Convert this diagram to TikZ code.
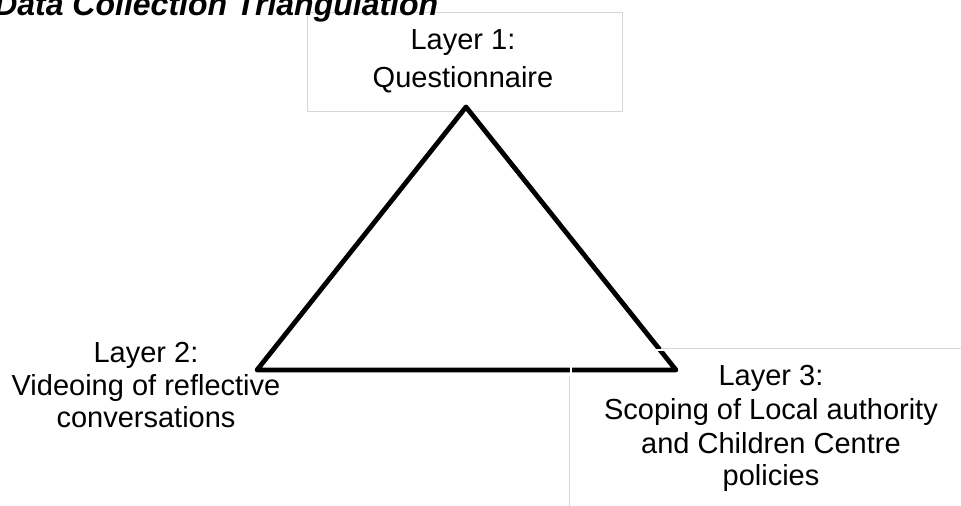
\documentclass[tikz,border=0pt]{standalone}
\usepackage{fontspec}
\setmainfont{Liberation Sans}
\begin{document}
\begin{tikzpicture}[x=0.75pt,y=-0.75pt,
  lbl/.style={anchor=base,inner sep=0pt,font=\fontsize{21.75pt}{25pt}\selectfont},
  titlestyle/.style={anchor=base west,inner sep=0pt,font=\fontsize{24pt}{28pt}\selectfont\bfseries\itshape},
  faint/.style={draw=black!16,line width=0.6pt},
  tri/.style={draw=black,line width=3.6pt,line join=round,line cap=round},
  gap/.style={draw=white,line width=1.6pt}]
\useasboundingbox (0,0) rectangle (961,506);
% layer 1 box
\path[faint,fill=white] (307,12) rectangle (622,111);
% title
\node[titlestyle] (title) at (-6,15.5) {Data Collection Triangulation};
% triangle
\coordinate (apex) at (466,107);
\coordinate (left) at (257,370);
\coordinate (right) at (676,370);
\draw[tri] (apex) -- (right) -- (left) -- cycle;
% layer 3 box traces
\coordinate (b3a) at (569,376);
\coordinate (b3b) at (569,506);
\coordinate (b3c) at (661,348);
\coordinate (b3d) at (961,348);
\draw[gap] (571,365) -- (571,375);
\draw[gap] (651,350) -- (665,350);
\draw[faint] (b3a) -- (b3b);
\draw[faint] (b3c) -- (b3d);
% labels
\node[lbl] (l1a) at (463,50) {Layer 1:};
\node[lbl] (l1b) at (463,88) {Questionnaire};
\node[lbl] (l2a) at (146,362) {Layer 2:};
\node[lbl] (l2b) at (146,395) {Videoing of reflective};
\node[lbl] (l2c) at (146,427) {conversations};
\node[lbl] (l3a) at (771,385) {Layer 3:};
\node[lbl] (l3b) at (771,419) {Scoping of Local authority};
\node[lbl] (l3c) at (771,453) {and Children Centre};
\node[lbl] (l3d) at (771,485) {policies};
\end{tikzpicture}
\end{document}
